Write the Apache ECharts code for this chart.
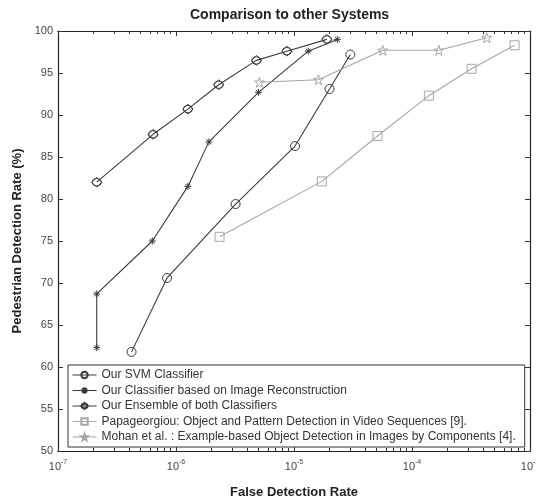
<!DOCTYPE html>
<html>
<head>
<meta charset="utf-8">
<script src="https://cdn.jsdelivr.net/npm/echarts@6/dist/echarts.min.js"></script>
<style>
  html, body { margin: 0; padding: 0; background: #fff; }
  #chart { width: 536px; height: 502px; }
</style>
</head>
<body>
<div id="chart"></div>
<script>
// values
var svmX = [4.2e-7, 8.4e-7, 3.2e-6, 1.02e-5, 2.0e-5, 3.0e-5];
var svmY = [61.8, 70.6, 79.4, 86.3, 93.1, 97.2];

var recX = [2.13e-7, 2.13e-7, 6.3e-7, 1.26e-6, 1.9e-6, 5.0e-6, 1.32e-5, 2.33e-5];
var recY = [62.3, 68.7, 75.0, 81.5, 86.8, 92.7, 97.6, 99.0];

var ensX = [2.13e-7, 6.4e-7, 1.26e-6, 2.3e-6, 4.8e-6, 8.7e-6, 1.9e-5];
var ensY = [82.0, 87.7, 90.7, 93.6, 96.5, 97.6, 99.0];

var papX = [2.34e-6, 1.72e-5, 5.1e-5, 1.39e-4, 3.2e-4, 7.4e-4];
var papY = [75.5, 82.1, 87.5, 92.3, 95.5, 98.3];

var mohX = [5.1e-6, 1.61e-5, 5.65e-5, 1.69e-4, 4.3e-4];
var mohY = [93.9, 94.2, 97.7, 97.7, 99.2];

var legendNames = [
  'Our SVM Classifier',
  'Our Classifier based on Image Reconstruction',
  'Our Ensemble of both Classifiers',
  'Papageorgiou: Object and Pattern Detection in Video Sequences [9].',
  'Mohan et al. : Example-based Object Detection in Images by Components [4].'
];

var majorTicks = [1e-7, 1e-6, 1e-5, 1e-4, 1e-3];
var minorTicks = [];
for (var d = -7; d < -3; d++) {
  for (var m = 2; m <= 9; m++) minorTicks.push(m * Math.pow(10, d));
}

function pairs(xs, ys) {
  return xs.map(function (x, i) { return [x, ys[i]]; });
}

var dark = '#3a3a3a';
var light = '#a6a6a6';
var font = 'Liberation Sans, Arial, sans-serif';

var starPath = 'path://M0,-5L1.18,-1.62L4.76,-1.55L1.9,0.62L2.94,4.05L0,2L-2.94,4.05L-1.9,0.62L-4.76,-1.55L-1.18,-1.62Z';
var astPath = 'path://M0,-5L0,5M-5,0L5,0M-3.5,-3.5L3.5,3.5M-3.5,3.5L3.5,-3.5';
var ensPath = 'path://M-3.6,0A3.6,3.6 0 1 0 3.6,0A3.6,3.6 0 1 0 -3.6,0ZM0,-5L4,0L0,5L-4,0Z';

function logAxis(pos, ticks, len, showLabel, name) {
  return {
    type: 'log', logBase: 10, min: 1e-7, max: 1e-3, position: pos,
    name: name || '', nameLocation: 'middle', nameGap: 35,
    nameTextStyle: { fontFamily: font, fontWeight: 'bold', fontSize: 13, color: '#222' },
    axisLine: { show: true, onZero: false, lineStyle: { color: '#222', width: 1.2 } },
    axisTick: { show: true, inside: true, length: len, customValues: ticks, lineStyle: { color: '#333' } },
    axisLabel: {
      show: showLabel, customValues: majorTicks, margin: 8,
      fontFamily: font, fontSize: 11, color: '#444',
      formatter: function (v) { return '10{s|' + Math.round(Math.log10(v)) + '}'; },
      rich: { s: { fontSize: 7, fontFamily: font, color: '#444', padding: [0, 0, 8, 0] } }
    },
    splitLine: { show: false }
  };
}

function linAxis(pos, showLabel, name) {
  return {
    type: 'value', min: 50, max: 100, interval: 5, position: pos,
    name: name || '', nameLocation: 'middle', nameGap: 31,
    nameTextStyle: { fontFamily: font, fontWeight: 'bold', fontSize: 13, color: '#222' },
    axisLine: { show: true, onZero: false, lineStyle: { color: '#222', width: 1.2 } },
    axisTick: { show: true, inside: true, length: 5, lineStyle: { color: '#333' } },
    axisLabel: { show: showLabel, margin: 5, fontFamily: font, fontSize: 11, color: '#444' },
    splitLine: { show: false }
  };
}

function mkSeries(name, xs, ys, color, symbol, size) {
  return {
    name: name, type: 'line', data: pairs(xs, ys),
    symbol: symbol, symbolSize: size, showSymbol: true,
    lineStyle: { color: color, width: 1.1 },
    itemStyle: { color: 'rgba(255,255,255,0)', borderColor: color, borderWidth: 1 },
    emphasis: { disabled: true },
    animation: false
  };
}

var chart = echarts.init(document.getElementById('chart'), null, { renderer: 'canvas' });
chart.setOption({
  backgroundColor: '#fff',
  animation: false,
  title: {
    text: 'Comparison to other Systems', left: 185, top: 3,
    textStyle: { fontFamily: font, fontWeight: 'bold', fontSize: 14, color: '#222' }
  },
  grid: { left: 58, right: 6, top: 31, bottom: 51, outerBoundsMode: 'none', containLabel: false },
  legend: {
    orient: 'vertical', left: 68, top: 365,
    padding: [4, 9, 4, 4], itemGap: 3.5, itemWidth: 24, itemHeight: 8,
    borderColor: '#333', borderWidth: 1, backgroundColor: '#fff',
    lineStyle: { width: 1 },
    textStyle: { fontFamily: font, fontSize: 12, color: '#333', lineHeight: 12 },
    data: legendNames
  },
  xAxis: [
    logAxis('bottom', majorTicks, 5, true, 'False Detection Rate'),
    logAxis('bottom', minorTicks, 3, false),
    logAxis('top', majorTicks, 5, false),
    logAxis('top', minorTicks, 3, false)
  ],
  yAxis: [
    linAxis('left', true, 'Pedestrian Detection Rate (%)'),
    linAxis('right', false)
  ],
  series: [
    mkSeries(legendNames[0], svmX, svmY, dark, 'circle', 9),
    mkSeries(legendNames[1], recX, recY, dark, astPath, 7),
    mkSeries(legendNames[2], ensX, ensY, dark, ensPath, 10),
    mkSeries(legendNames[3], papX, papY, light, 'rect', 9),
    mkSeries(legendNames[4], mohX, mohY, light, starPath, 10)
  ]
});
</script>
</body>
</html>
